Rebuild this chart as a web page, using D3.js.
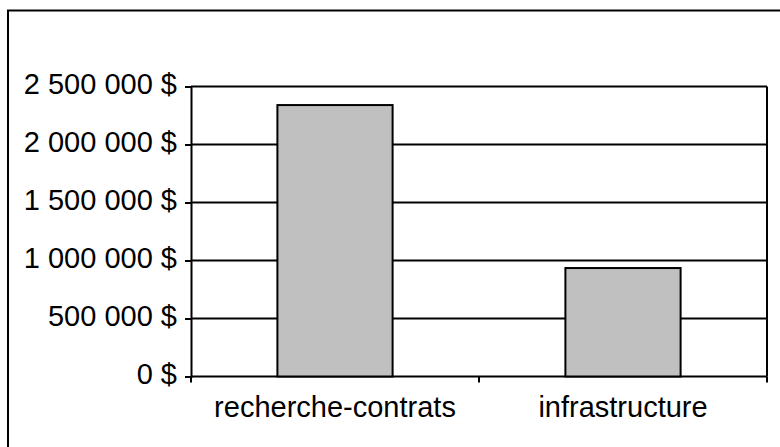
<!DOCTYPE html>
<html>
<head>
<meta charset="utf-8">
<script src="https://cdn.jsdelivr.net/npm/d3@7"></script>
<style>
  body { margin: 0; background: #fff; }
  text { font-family: "Liberation Sans", Arial, sans-serif; fill: #000; }
</style>
</head>
<body>
<script>
'use strict';

// chart data
const categories = ["recherche-contrats", "infrastructure"];
const amounts = [2340000, 935000];
const yTicks = [0, 500000, 1000000, 1500000, 2000000, 2500000];

(function () {
  const width = 780, height = 447;
  const plot = { left: 191, right: 767, top: 86.5, bottom: 376.5 };

  const svg = d3.select('body')
    .append('svg')
    .attr('width', width)
    .attr('height', height);

  // outer frame (only left and top edges visible)
  svg.append('path')
    .attr('d', 'M8,447V10.5H780')
    .attr('fill', 'none')
    .attr('stroke', '#000')
    .attr('stroke-width', 2);

  // french style money: "2 500 000 $"
  const fr = d3.formatLocale({ decimal: ",", thousands: " ", grouping: [3], currency: ["", " $"] });
  const money = fr.format("$,.0f");

  let yScale = d3.scaleLinear()
    .domain([0, 2500000])
    .range([plot.bottom, plot.top]);

  let xScale = d3.scaleBand()
    .domain(categories)
    .range([plot.left, plot.right])
    .paddingInner(0.6)
    .paddingOuter(0.3);

  // gridlines
  svg.append('g')
    .selectAll('line')
    .data(yTicks)
    .enter()
    .append('line')
    .attr('x1', plot.left)
    .attr('x2', plot.right)
    .attr('y1', d => yScale(d))
    .attr('y2', d => yScale(d))
    .attr('stroke', '#000')
    .attr('stroke-width', 2);

  // right border of plot area
  svg.append('line')
    .attr('x1', plot.right).attr('x2', plot.right)
    .attr('y1', plot.top).attr('y2', plot.bottom)
    .attr('stroke', '#000')
    .attr('stroke-width', 2);

  // bars
  svg.selectAll('.bar')
    .data(categories)
    .enter()
    .append('rect')
    .attr('class', 'bar')
    .attr('x', d => xScale(d))
    .attr('width', xScale.bandwidth())
    .attr('y', (d, i) => yScale(amounts[i]))
    .attr('height', (d, i) => plot.bottom - yScale(amounts[i]))
    .attr('fill', '#c0c0c0')
    .attr('stroke', '#000')
    .attr('stroke-width', 2);

  // y axis
  let yAxis = d3.axisLeft(yScale)
    .tickValues(yTicks)
    .tickSize(6)
    .tickPadding(8)
    .tickFormat(money);
  let gy = svg.append('g')
    .attr('transform', 'translate(' + plot.left + ',0)')
    .call(yAxis);
  gy.attr('font-family', null).attr('font-size', null);
  gy.select('.domain').attr('stroke-width', 2);
  gy.selectAll('.tick line').attr('stroke-width', 2);
  gy.selectAll('text')
    .attr('dy', '0.25em')
    .style('font-size', '29px');

  // x axis: ticks on band edges
  let edges = d3.scaleLinear().domain([0, categories.length]).range([plot.left, plot.right]);
  svg.append('g')
    .selectAll('line')
    .data(d3.range(categories.length + 1))
    .enter()
    .append('line')
    .attr('x1', d => edges(d)).attr('x2', d => edges(d))
    .attr('y1', plot.bottom).attr('y2', plot.bottom + 6)
    .attr('stroke', '#000')
    .attr('stroke-width', 2);

  svg.append('g')
    .selectAll('text')
    .data(categories)
    .enter()
    .append('text')
    .attr('x', d => xScale(d) + xScale.bandwidth() / 2)
    .attr('y', 417)
    .attr('text-anchor', 'middle')
    .style('font-size', '29px')
    .text(d => d);
})();
</script>
</body>
</html>
